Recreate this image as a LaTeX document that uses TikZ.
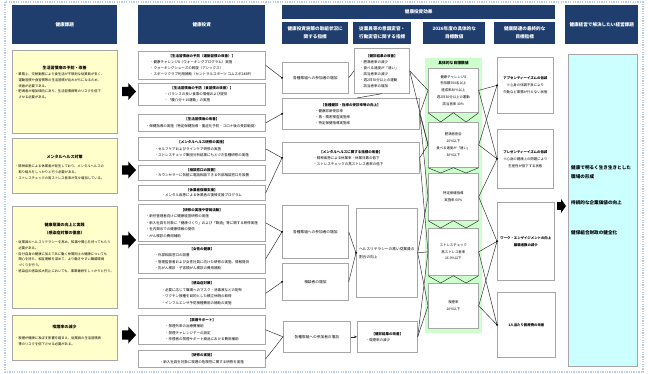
\documentclass[tikz,border=0pt]{standalone}
\usepackage{fontspec}
\setmainfont{Noto Sans CJK JP}
\usetikzlibrary{calc,arrows.meta}
\definecolor{navy}{HTML}{1F3E6E}
\definecolor{ylw}{HTML}{FFFFCC}
\definecolor{grn}{HTML}{CCFFCC}
\definecolor{cyn}{HTML}{CCFFFF}
\definecolor{bord}{HTML}{A6A6A6}
\definecolor{framec}{HTML}{B8CCE4}
\newcommand{\fsHdr}{\fontsize{4.6pt}{8pt}\selectfont}
\newcommand{\fsTtl}{\fontsize{4pt}{8pt}\selectfont}
\newcommand{\fsBody}{\fontsize{3.3pt}{5.8pt}\selectfont}
\newcommand{\fsTwo}{\fontsize{3.5pt}{6.5pt}\selectfont}
\newcommand{\fsTwoS}{\fontsize{3.5pt}{5.8pt}\selectfont}
\newcommand{\fsThr}{\fontsize{3.5pt}{6pt}\selectfont}
\newcommand{\fsCtr}{\fontsize{3.7pt}{7.5pt}\selectfont}
\newcommand{\fsG}{\fontsize{3.4pt}{6.8pt}\selectfont}
\newcommand{\fsBig}{\fontsize{4.6pt}{9pt}\selectfont}
\newcommand{\BigArrow}[4]{\fill[black] (#1,{#2-0.55*#4}) -- ({#1+0.45*#3},{#2-0.55*#4}) -- ({#1+0.45*#3},{#2-#4}) -- ({#1+#3},#2) -- ({#1+0.45*#3},{#2+#4}) -- ({#1+0.45*#3},{#2+0.55*#4}) -- (#1,{#2+0.55*#4}) -- cycle;}
\begin{document}
\begin{tikzpicture}[x=1pt,y=-1pt,
 hdr/.style={fill=navy, text=white, font=\fsHdr\bfseries, align=center, inner sep=0pt, anchor=north west},
 ybox/.style={fill=ylw, draw=bord, line width=0.7pt, inner sep=0pt, anchor=north west},
 wbox/.style={fill=white, draw=bord, line width=0.7pt, inner sep=0pt, anchor=north west, align=center},
 ttl/.style={font=\fsTtl\bfseries, inner sep=0pt, align=center},
 body/.style={font=\fsBody, inner sep=0pt, align=left, anchor=north west},
 cn/.style={draw=black!85, line width=0.45pt},
 dot/.style={circle, fill=black, inner sep=0pt, minimum size=2.2pt},
 bigt/.style={font=\fsBig\bfseries, inner sep=0pt, align=left, anchor=west}]
\useasboundingbox (0,0) rectangle (648,374);
\fill[white] (0,0) rectangle (648,374);
\draw[framec, line width=1.3pt, dash pattern=on 1.3pt off 1.1pt] (5,2) rectangle (643,372);
% headers
\node[hdr, minimum width=105pt, minimum height=39pt] (h1) at (12,5) {健康課題};
\node[hdr, minimum width=127pt, minimum height=39pt] (h2) at (138,5) {健康投資};
\node[hdr, minimum width=273pt, minimum height=14pt] (h3) at (282,5) {健康投資効果};
\node[hdr, minimum width=66pt, minimum height=22pt] (h3a) at (282,22) {健康投資施策の取組状況に\\関する指標};
\node[hdr, minimum width=58pt, minimum height=22pt] (h3b) at (353,22) {従業員等の意識変容・\\行動変容に関する指標};
\node[hdr, minimum width=62pt, minimum height=22pt] (h3c) at (423,22) {2026年度の具体的な\\目標数値};
\node[hdr, minimum width=61pt, minimum height=22pt] (h3d) at (494,22) {健康関連の最終的な\\目標指標};
\node[hdr, minimum width=73pt, minimum height=39pt] (h4) at (565,5) {健康経営で解決したい経営課題};
% column 1
\node[ybox, minimum width=105pt, minimum height=83pt] (c1) at (12,50) {};
\node[ttl] (c1t) at (64.5,68) {生活習慣病の予防・改善};
\node[body] (c1b) at (15,72.5) {・業務上、交替勤務により食生活が不規則な従業員が多く、\\\hspace*{1em}運動習慣や食習慣等の生活習慣が乱れがちになるため、\\\hspace*{1em}改善が必要である。\\・肥満者が増加傾向にあり、生活習慣病等のリスクを低下\\\hspace*{1em}させる必要がある。};
\node[ybox, minimum width=105pt, minimum height=55pt] (c2) at (12,138) {};
\node[ttl] (c2t) at (64.5,157) {メンタルヘルス対策};
\node[body] (c2b) at (15,164.5) {・精神疾患による休業者が発生しており、メンタルヘルスの\\\hspace*{1em}取り組みをしっかりと行う必要がある。\\・ストレスチェックの高ストレス者率が年々増加している。};
\node[ybox, minimum width=105pt, minimum height=102pt] (c3) at (12,206) {};
\node[ttl] (c3t) at (64.5,229) {健康意識の向上と実践\\（感染症対策の徹底）};
\node[body] (c3b) at (15,240.5) {・従業員のヘルスリテラシーを高め、知識や関心を持ってもらう\\\hspace*{1em}必要がある。\\・自分自身の健康に加えて共に働く仲間同士の健康についても\\\hspace*{1em}関心を持ち、相互理解を深めて、より働きやすい職場環境\\\hspace*{1em}づくりを行う。\\・感染症の感染拡大防止においても、事業継続をしっかりと行う。};
\node[ybox, minimum width=105pt, minimum height=45pt] (c4) at (12,315) {};
\node[ttl] (c4t) at (64.5,327) {喫煙率の減少};
\node[body] (c4b) at (15,336.5) {・喫煙が健康に及ぼす影響を踏まえ、従業員の生活習慣病\\\hspace*{1em}等のリスクを低下させる必要がある。};
% big arrows
\BigArrow{122}{91.5}{14}{8.5}
\BigArrow{122}{170}{14}{8.5}
\BigArrow{122}{240}{14}{8.5}
\BigArrow{122}{335}{14}{8.5}
\BigArrow{557}{206}{9}{7}
% column 2
\node[wbox, font=\fsTwoS, minimum width=127pt, minimum height=28pt] (i1) at (138,51) {\begin{tabular}{@{}l@{}}\multicolumn{1}{c}{\bfseries 【生活習慣病の予防（運動習慣の改善）】}\\・健康チャレンジ8（ウォーキングプログラム）実施\\・ウォーキングシューズの斡旋（アシックス）\\・スポーツクラブ利用補助（セントラルスポーツ コムスポ24BP）\end{tabular}};
\node[wbox, font=\fsTwoS, minimum width=127pt, minimum height=22pt] (i2) at (138,83) {\begin{tabular}{@{}l@{}}\multicolumn{1}{c}{\bfseries 【生活習慣病の予防（食習慣の改善）】}\\・バランスの良い食事の情報および提供\\・「腹八分＋10運動」の実施\end{tabular}};
\node[wbox, font=\fsTwo, minimum width=127pt, minimum height=17pt] (i3) at (138,114) {\begin{tabular}{@{}l@{}}\multicolumn{1}{c}{\bfseries 【生活習慣病の改善】}\\・保健指導の実施（特定保健指導・重症化予防・コロナ後の受診勧奨）\end{tabular}};
\node[wbox, font=\fsTwo, minimum width=127pt, minimum height=23pt] (i4) at (138,137) {\begin{tabular}{@{}l@{}}\multicolumn{1}{c}{\bfseries 【メンタルヘルス研修の実施】}\\・セルフケアおよびラインケア研修の実施\\・ストレスチェック集団分析結果にもとづき各種研修の実施\end{tabular}};
\node[wbox, font=\fsTwoS, minimum width=127pt, minimum height=15pt] (i5) at (138,165) {\begin{tabular}{@{}l@{}}\multicolumn{1}{c}{\bfseries 【相談窓口の設置】}\\・カウンセラーに気軽に電話相談できる外部相談窓口を設置\end{tabular}};
\node[wbox, font=\fsTwoS, minimum width=127pt, minimum height=15pt] (i6) at (138,185) {\begin{tabular}{@{}l@{}}\multicolumn{1}{c}{\bfseries 【休業者復職支援】}\\・メンタル疾患による休業者の復帰支援プログラム\end{tabular}};
\node[wbox, font=\fsTwo, minimum width=127pt, minimum height=37pt] (i7) at (138,204) {\begin{tabular}{@{}l@{}}\multicolumn{1}{c}{\bfseries 【研修の実施や啓発活動】}\\・新任管理者向けに健康経営研修の実施\\・新入社員を対象に「健康づくり」および「飲酒」等に関する研修実施\\・社内掲示での健康情報の提供\\・がん検診の費用補助\end{tabular}};
\node[wbox, font=\fsTwo, minimum width=127pt, minimum height=29pt] (i8) at (138,244) {\begin{tabular}{@{}l@{}}\multicolumn{1}{c}{\bfseries 【女性の健康】}\\・外部相談窓口の設置\\・管理監督者および女性社員に向けた研修の実施、情報提供\\・乳がん検診・子宮頸がん検診の費用補助\end{tabular}};
\node[wbox, font=\fsTwo, minimum width=127pt, minimum height=30pt] (i9) at (138,278) {\begin{tabular}{@{}l@{}}\multicolumn{1}{c}{\bfseries 【感染症対策】}\\・必要に応じて職場へのマスク・消毒液などの配布\\・ワクチン接種を目的とした積立休暇の取得\\・インフルエンザ予防接種費用の補助の実施\end{tabular}};
\node[wbox, font=\fsTwo, minimum width=127pt, minimum height=29pt] (i10) at (138,315) {\begin{tabular}{@{}l@{}}\multicolumn{1}{c}{\bfseries 【禁煙サポート】}\\・禁煙外来の治療費補助\\・禁煙チャレンジデーの設定\\・卒煙者の禁煙サポート商品における費用補助\end{tabular}};
\node[wbox, font=\fsTwo, minimum width=127pt, minimum height=17pt] (i11) at (138,350) {\begin{tabular}{@{}l@{}}\multicolumn{1}{c}{\bfseries 【研修の実施】}\\・新入社員を対象に喫煙の危険性に関する研修を実施\end{tabular}};
% columns 3-4
\node[wbox, font=\fsCtr, minimum width=66pt, minimum height=31pt] (e1) at (282,62) {各種取組への参加者の増加};
\node[wbox, font=\fsThr, minimum width=55pt, minimum height=45pt] (e2) at (354,48) {\begin{tabular}{@{}l@{}}\multicolumn{1}{c}{\bfseries 【健診結果の改善】}\\・肥満者率の減少\\・食べる速度が「速い」\\\hspace*{1em}該当者率の減少\\・週2日30分以上の運動\\\hspace*{1em}該当者率の増加\end{tabular}};
\node[wbox, font=\fsThr, minimum width=137pt, minimum height=31pt] (e3) at (282,98) {\begin{tabular}{@{}l@{}}\multicolumn{1}{c}{\bfseries 【各種健診・指導の受診率等の向上】}\\・健康診断受診率\\・再・精密検査実施率\\・特定保健指導実施率\end{tabular}};
\node[wbox, font=\fsThr, minimum width=137pt, minimum height=31pt] (e4) at (282,142) {\begin{tabular}{@{}l@{}}\multicolumn{1}{c}{\bfseries 【メンタルヘルスに関する指標の改善】}\\・精神疾患による休業率・休業日数の低下\\・ストレスチェックの高ストレス者率の低下\end{tabular}};
\node[wbox, font=\fsCtr, minimum width=66pt, minimum height=53pt] (e5) at (282,205) {各種取組への参加者の増加};
\node[wbox, font=\fsCtr, minimum width=66pt, minimum height=37pt] (e6) at (282,263) {相談者の増加};
\node[wbox, font=\fsCtr, align=left, minimum width=61pt, minimum height=89pt] (e7) at (356,208) {ヘルスリテラシーの高い従業員の\\割合の向上};
\node[wbox, font=\fsCtr, minimum width=67pt, minimum height=31pt] (e8) at (283,321) {各種取組への参加者の増加};
\node[wbox, font=\fsThr, minimum width=60pt, minimum height=31pt] (e9) at (357,321) {\begin{tabular}{@{}l@{}}\multicolumn{1}{c}{\bfseries 【健診結果の改善】}\\・喫煙率の減少\end{tabular}};
% column 5 panel
\node[fill=grn, draw=none, anchor=north west, minimum width=57pt, minimum height=275pt, inner sep=0pt] (gp) at (425,58) {};
\node[font=\fontsize{3.8pt}{6pt}\selectfont\bfseries, inner sep=0pt] (gpt) at (453.5,63) {具体的な目標数値};
% column 7
\node[fill=cyn, draw=bord, line width=0.7pt, anchor=north west, minimum width=69pt, minimum height=312pt, inner sep=0pt] (c7) at (568,54) {};
\node[bigt] (c7a) at (571,172.5) {健康で明るく生き生きとした\\職場の形成};
\node[bigt] (c7b) at (571,203) {持続的な企業価値の向上};
\node[bigt] (c7c) at (571,233) {健保組合財政の健全化};
% connectors behind target boxes
\draw[cn] (i1.east) -- (e1.west);
\draw[cn] (i3.east) -- (e3.west);
\draw[cn] (i4.east) -- (e4.west);
\draw[cn] (i6.east) -- (e4.west);
\draw[cn] (i7.east) -- (e5.west);
\draw[cn] (i8.east) -- (e5.west);
\draw[cn] (i9.east) -- (e6.west);
\draw[cn] (i10.east) -- (e8.west);
\draw[cn] (i11.east) -- (e8.west);
\draw[cn] (e1.east) -- (e2.west);
\draw[cn] ([xshift=6pt]e3.north) -- (e2.south);
\draw[cn] (e5.east) -- (e7.west);
\draw[cn] (e6.east) -- (e7.west);
\draw[cn, -{Stealth[length=3pt,width=2.6pt]}] (e8.east) -- (e9.west);
% column 5 boxes
\node[wbox, font=\fsG, minimum width=50pt, minimum height=44pt] (t1) at (428,68) {健康チャレンジ8\\参加数550名以上\\達成率80\%以上\\週2日30分以上の運動\\該当者率\ 30\%};
\node[wbox, font=\fsG, minimum width=50pt, minimum height=45pt] (t2) at (428,122) {肥満者割合\\25\%以下\\食べる速度が「速い」\\30\%以下};
\node[wbox, font=\fsG, minimum width=50pt, minimum height=47pt] (t3) at (428,173) {特定保健指導\\実施率\ 60\%};
\node[wbox, font=\fsG, minimum width=50pt, minimum height=47pt] (t4) at (428,228) {ストレスチェック\\高ストレス者率\\16.0\%以下};
\node[wbox, font=\fsG, minimum width=50pt, minimum height=45pt] (t5) at (428,283) {喫煙率\\20\%以下};
% column 6 boxes
\node[wbox, font=\fsG, minimum width=56pt, minimum height=56pt] (f1) at (497,57) {{\bfseries アブセンティーイズムの低減}\\※心身の体調不良により\\欠勤など業務が行えない状態};
\node[wbox, font=\fsG, minimum width=56pt, minimum height=59pt] (f2) at (497,129) {{\bfseries プレゼンティーイズムの低減}\\※心身の健康上の問題により\\生産性が低下する状態};
\node[wbox, font=\fsG, minimum width=57pt, minimum height=78pt] (f3) at (497,202) {{\bfseries ワーク・エンゲイジメントの向上}\\{\bfseries 離職者数の減少}};
\node[wbox, font=\fsG, minimum width=58pt, minimum height=65pt] (f4) at (497,292) {{\bfseries 1人当たり医療費の改善}};
% fans
\foreach \s/\t in {e2/t1, e2/t2, e3/t1, e3/t2, e3/t3, e4/t2, e4/t4, e7/t3, e7/t4, e7/t5, e9/t4, e9/t5}
  \draw[cn] (\s.east) -- (\t.west);
\foreach \s/\t in {t1/f1, t1/f2, t2/f1, t2/f2, t3/f2, t3/f3, t4/f3, t4/f4, t5/f3, t5/f4}
  \draw[cn] (\s.east) -- (\t.west);
\foreach \a/\b in {t1/t2, t2/t3, t3/t4, t4/t5}
  \draw[cn] (\a.south west) -- ($(\b.north west)!.25!(\b.north east)$) -- (\a.south) -- ($(\b.north west)!.75!(\b.north east)$) -- (\a.south east);
% dots
\foreach \n in {e1,e3,e4,e5,e6,e7,f1,f2,f3,f4}
  \node[dot] (d\n) at (\n.west) {};
\end{tikzpicture}
\end{document}
